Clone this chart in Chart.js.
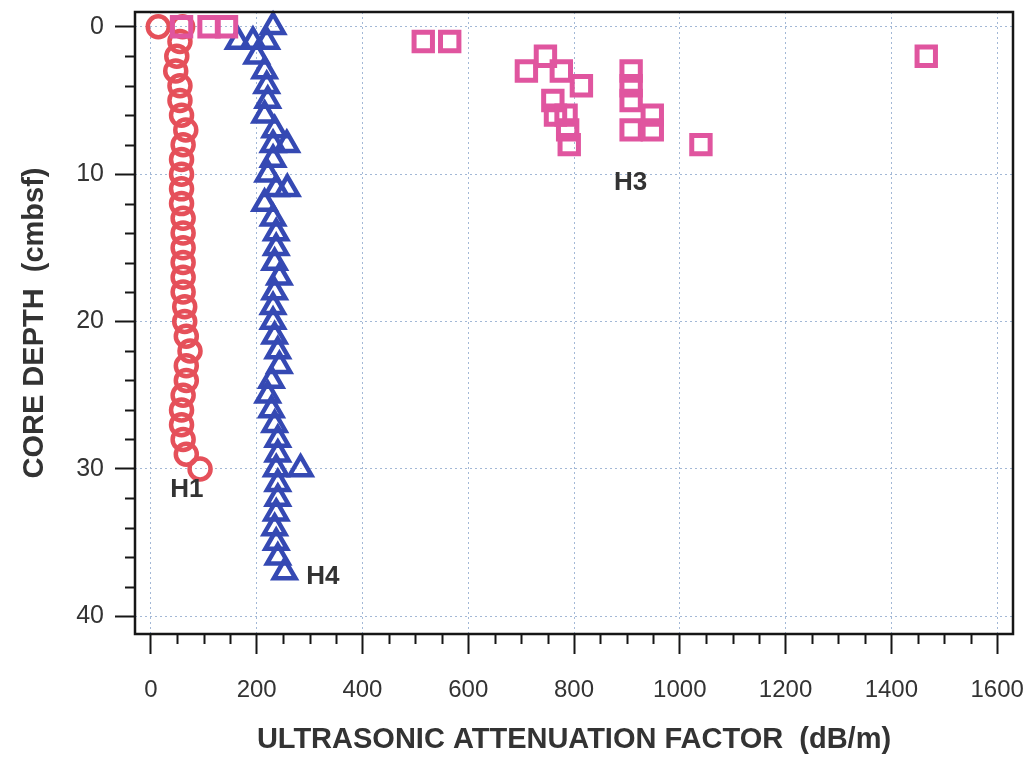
<!DOCTYPE html>
<html>
<head>
<meta charset="utf-8">
<script src="https://cdn.jsdelivr.net/npm/chart.js@4.4.1/dist/chart.umd.min.js"></script>
<style>
  html, body { margin: 0; padding: 0; background: #ffffff; }
  #wrap { width: 1035px; height: 761px; position: relative; }
</style>
</head>
<body>
<div id="wrap"><canvas id="c"></canvas></div>
<script>
// ---- data ----
// H1 (red circles): depth (cmbsf) and attenuation factor (dB/m)
const h1Depth  = [0, 0, 1, 2, 3, 4, 5, 6, 7, 8, 9, 10, 11, 12, 13, 14, 15, 16, 17, 18, 19, 20, 21, 22, 23, 24, 25, 26, 27, 28, 29, 30];
const h1Factor = [14, 60, 55, 49, 47, 55, 55, 58, 66, 61, 58, 58, 58, 58, 61, 61, 61, 61, 61, 61, 64, 64, 67, 74, 67, 67, 61, 58, 58, 61, 67, 93];

// H4 (blue triangles)
const h4Depth  = [0, 1, 1, 1, 2, 3, 4, 5, 6, 7, 8, 8, 9, 10, 11, 11, 12, 13, 14, 15, 16, 17, 18, 19, 20, 21, 22, 23, 24, 25, 26, 27, 28, 29, 30, 30, 31, 32, 33, 34, 35, 36, 37];
const h4Factor = [231, 165, 193, 219, 200, 215, 219, 221, 215, 234, 231, 257, 231, 221, 237, 258, 215, 231, 237, 237, 234, 243, 234, 231, 231, 234, 240, 243, 228, 221, 228, 234, 240, 240, 237, 283, 240, 240, 237, 234, 237, 240, 253];

// H3 (pink squares)
const h3Depth  = [0, 0, 0, 1, 1, 2, 2, 3, 3, 3, 4, 4, 5, 5, 6, 6, 6, 7, 7, 7, 8, 8];
const h3Factor = [58, 110, 143, 515, 565, 746, 1466, 710, 776, 908, 814, 908, 760, 908, 765, 785, 948, 788, 908, 948, 791, 1040];

// axis tick labels
const xTicks = [0, 200, 400, 600, 800, 1000, 1200, 1400, 1600];
const yTicks = [0, 10, 20, 30, 40];

// series labels written in the plot
const seriesNames = ['H1', 'H4', 'H3'];
const seriesLabelX = [68, 325, 907];
const seriesLabelY = [31.4, 37.35, 10.6];

// ---- build ----
const toPoints = (xs, ys) => xs.map((v, i) => ({ x: v, y: ys[i] }));

const xMinor = [];
for (let v = 0; v <= 1600; v += 50) if (v % 200 !== 0) xMinor.push(v);
const yMinor = [];
for (let v = 0; v <= 40; v += 2) if (v % 10 !== 0) yMinor.push(v);

const TXT = '#333333';
const AXIS = '#161616';
const GRID = '#a3b8d6';

const decor = {
  id: 'decor',
  afterDraw(chart) {
    const { ctx, chartArea: a, scales } = chart;
    const sx = scales.x, sy = scales.y;
    ctx.save();
    // frame
    ctx.strokeStyle = AXIS;
    ctx.lineWidth = 2.5;
    ctx.strokeRect(a.left, a.top, a.right - a.left, a.bottom - a.top);
    // minor ticks
    ctx.lineWidth = 2;
    ctx.beginPath();
    xMinor.forEach(v => {
      const p = Math.round(sx.getPixelForValue(v)) + 0.5;
      ctx.moveTo(p, a.bottom);
      ctx.lineTo(p, a.bottom + 10);
    });
    yMinor.forEach(v => {
      const p = Math.round(sy.getPixelForValue(v)) + 0.5;
      ctx.moveTo(a.left, p);
      ctx.lineTo(a.left - 10, p);
    });
    ctx.stroke();
    // series labels
    ctx.fillStyle = TXT;
    ctx.font = 'bold 26px "Liberation Sans", Arial, sans-serif';
    ctx.textAlign = 'center';
    ctx.textBaseline = 'middle';
    seriesNames.forEach((n, i) => {
      ctx.fillText(n, sx.getPixelForValue(seriesLabelX[i]), sy.getPixelForValue(seriesLabelY[i]));
    });
    ctx.restore();
  }
};

const tickFont = { family: '"Liberation Sans", Arial, sans-serif', size: 24 };
const titleFont = { family: '"Liberation Sans", Arial, sans-serif', size: 29, weight: 'bold' };

new Chart(document.getElementById('c'), {
  type: 'scatter',
  data: {
    datasets: [
      {
        label: 'H1',
        data: toPoints(h1Factor, h1Depth),
        pointStyle: 'circle',
        pointRadius: 10.5,
        pointBorderWidth: 4.5,
        borderColor: '#e5505a',
        backgroundColor: 'rgba(0,0,0,0)',
        order: 2
      },
      {
        label: 'H4',
        data: toPoints(h4Factor, h4Depth),
        pointStyle: 'triangle',
        pointRadius: 12.5,
        pointBorderWidth: 4.5,
        borderColor: '#3549b3',
        backgroundColor: 'rgba(0,0,0,0)',
        order: 1
      },
      {
        label: 'H3',
        data: toPoints(h3Factor, h3Depth),
        pointStyle: 'rect',
        pointRadius: 13,
        pointBorderWidth: 5,
        borderColor: '#e0559f',
        backgroundColor: 'rgba(0,0,0,0)',
        order: 0
      }
    ]
  },
  options: {
    responsive: true,
    maintainAspectRatio: false,
    animation: false,
    events: [],
    clip: false,
    layout: { autoPadding: false, padding: { top: 12, right: 22, left: 0, bottom: 0 } },
    plugins: { legend: { display: false }, tooltip: { enabled: false } },
    scales: {
      x: {
        type: 'linear',
        position: 'bottom',
        min: -30,
        max: 1630,
        afterBuildTicks: s => { s.ticks = xTicks.map(v => ({ value: v })); },
        afterFit: s => { s.height = 127; s.paddingLeft = 0; s.paddingRight = 0; },
        ticks: { callback: v => String(v), font: tickFont, color: TXT, padding: 22, maxRotation: 0, autoSkip: false },
        grid: { color: GRID, lineWidth: 1, tickLength: 20, tickColor: AXIS, tickWidth: 2 },
        border: { display: false, dash: [2, 3] },
        title: { display: true, text: 'ULTRASONIC ATTENUATION FACTOR  (dB/m)', font: titleFont, color: TXT, padding: { top: 0, bottom: 4 } }
      },
      y: {
        type: 'linear',
        reverse: true,
        min: -1,
        max: 41.2,
        afterBuildTicks: s => { s.ticks = yTicks.map(v => ({ value: v })); },
        afterFit: s => { s.width = 135; s.paddingTop = 0; s.paddingBottom = 0; },
        ticks: { callback: v => String(v), font: { family: '"Liberation Sans", Arial, sans-serif', size: 25 }, color: TXT, padding: 11, autoSkip: false },
        grid: { color: GRID, lineWidth: 1, tickLength: 20, tickColor: AXIS, tickWidth: 2 },
        border: { display: false, dash: [2, 3] },
        title: { display: true, text: 'CORE DEPTH  (cmbsf)', font: titleFont, color: TXT, padding: { top: 18, bottom: 0 } }
      }
    }
  },
  plugins: [decor]
});
</script>
</body>
</html>
